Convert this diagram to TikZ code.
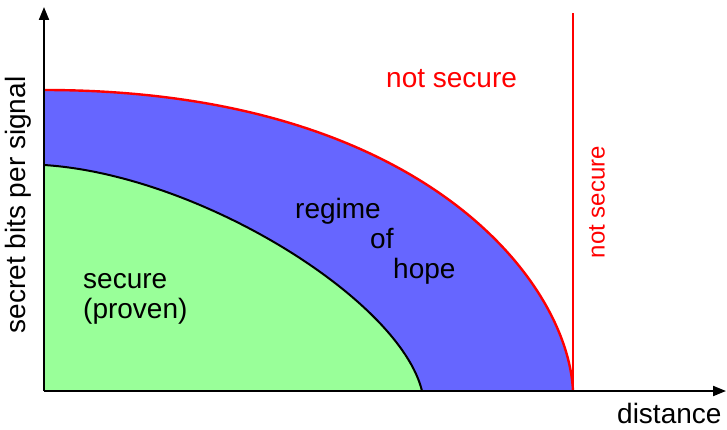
\documentclass[tikz,border=0pt]{standalone}
\usepackage{fontspec}
\setmainfont{Liberation Sans}
\usetikzlibrary{arrows.meta}
\definecolor{HopeBlue}{HTML}{6666FF}
\definecolor{SafeGreen}{HTML}{99FF99}
\definecolor{AlarmRed}{HTML}{FF0000}
\tikzset{
  axis/.style={draw=black,line width=2pt,-{Triangle[length=13pt,width=10pt]}},
  bound/.style={draw=AlarmRed,line width=2.4pt},
  proof/.style={draw=black,line width=2pt},
  lbl/.style={anchor=base west,inner sep=0pt,font=\fontsize{28}{30}\selectfont},
  redlbl/.style={lbl,text=AlarmRed}
}
\begin{document}
\begin{tikzpicture}[x=1pt,y=1pt]
      \useasboundingbox (0,0) rectangle (727,429);
      \coordinate (origin) at (44,38);
      \coordinate (ytop) at (44,422);
      \coordinate (xend) at (726,38);
      \coordinate (hopetop) at (44,339);
      \coordinate (hopeend) at (573,38);
      \coordinate (walltop) at (573,416);
      \coordinate (safetop) at (44,264);
      \coordinate (safeend) at (422,38);
      % regions
      \fill[HopeBlue] (origin) -- (hopetop) .. controls (420,339) and (568,149) .. (hopeend) -- cycle;
      \fill[SafeGreen] (origin) -- (safetop) .. controls (200,254) and (400,129) .. (safeend) -- cycle;
      \draw[proof] (safetop) .. controls (200,254) and (400,129) .. (safeend);
      \draw[bound] (hopetop) .. controls (420,339) and (568,149) .. (hopeend);
      \draw[bound] (hopeend) -- (walltop);
      % axes
      \draw[axis] (origin) -- (ytop);
      \draw[axis] (origin) -- (xend);
      % labels
      \node[lbl,anchor=center,rotate=90] (ylabel) at (18,224) {secret bits per signal};
      \node[lbl] (xlabel) at (617,6) {distance};
      \node[redlbl] (notsecure) at (386,341) {not secure};
      \node[redlbl,anchor=center,rotate=90,font=\fontsize{24}{28}\selectfont] (notsecurev) at (597,227) {not secure};
      \node[lbl] (securelbl) at (83,141) {secure};
      \node[lbl] (provenlbl) at (83,111) {(proven)};
      \node[lbl] (regimelbl) at (295,211) {regime};
      \node[lbl] (oflbl) at (370,181) {of};
      \node[lbl] (hopelbl) at (393,151) {hope};
    \end{tikzpicture}
\end{document}
